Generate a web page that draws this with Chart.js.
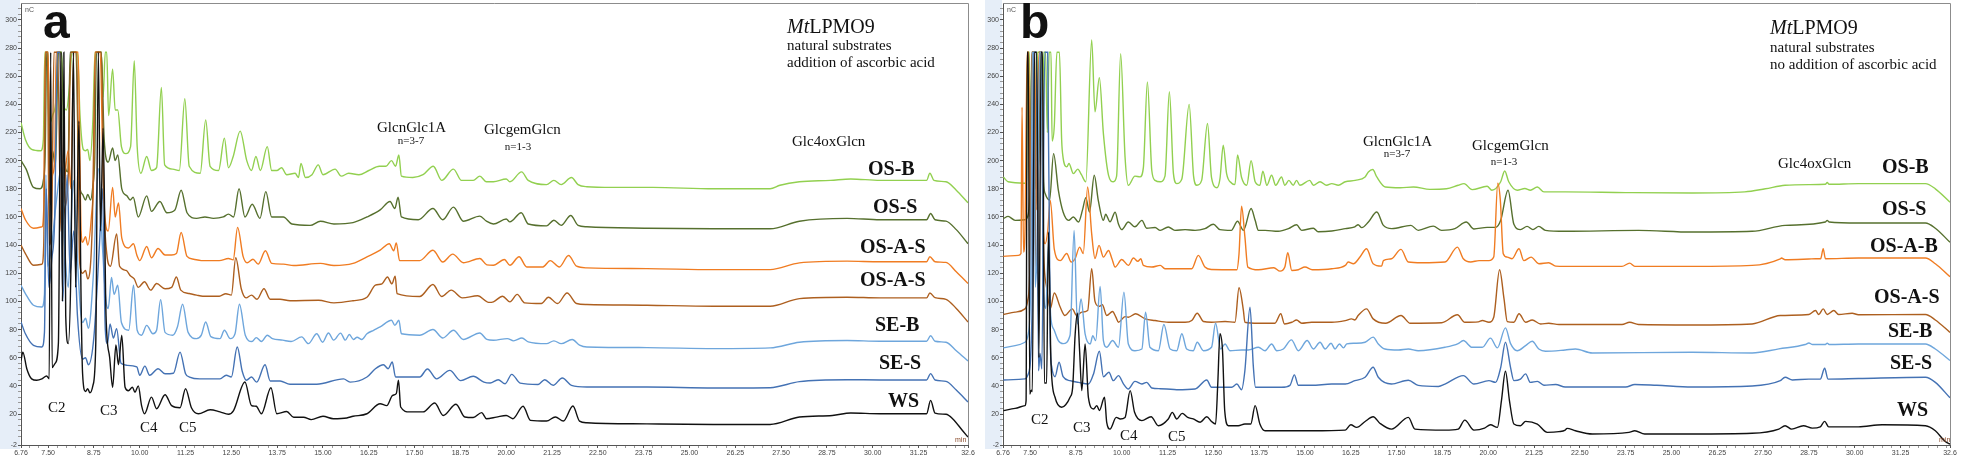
<!DOCTYPE html>
<html><head><meta charset="utf-8">
<script src="https://cdn.jsdelivr.net/npm/chart.js@4.4.1/dist/chart.umd.min.js"></script>
<style>
html,body{margin:0;padding:0;background:#fff;overflow:hidden}
#wrap{position:relative;width:1962px;height:460px}
canvas{position:absolute;top:0}
#ca{left:0;width:976px;height:460px}
#cb{left:982px;width:980px;height:460px}
</style></head><body>
<div id="wrap"><canvas id="ca" width="976" height="460"></canvas><canvas id="cb" width="980" height="460"></canvas></div>
<script>
// ---------- axis ticks ----------
const xTickValues = [6.76,7.5,8.75,10,11.25,12.5,13.75,15,16.25,17.5,18.75,20,21.25,22.5,23.75,25,26.25,27.5,28.75,30,31.25,32.6];
const xTickLabels = ['6.76','7.50','8.75','10.00','11.25','12.50','13.75','15.00','16.25','17.50','18.75','20.00','21.25','22.50','23.75','25.00','26.25','27.50','28.75','30.00','31.25','32.6'];
const yTickValues = [-2,20,40,60,80,100,120,140,160,180,200,220,240,260,280,300];
const yTickLabels = ['-2','20','40','60','80','100','120','140','160','180','200','220','240','260','280','300'];
const seriesNames = ['WS','SE-S','SE-B','OS-A-S','OS-A-S','OS-S','OS-B'];
const seriesNamesB = ['WS','SE-S','SE-B','OS-A-S','OS-A-B','OS-S','OS-B'];

// ---------- panel a : [retention time (min), signal (nC)] ----------
const a_OSB = [[6.76,227],[6.88,215],[7.05,208],[7.3,207],[7.37,215],[7.41,277],[7.47,277],[7.52,225],[7.62,232],[7.72,245],[7.77,277],[7.86,277],[7.92,240],[8.0,236],[8.08,252],[8.15,277],[8.3,277],[8.37,232],[8.46,208],[8.52,207],[8.58,208],[8.64,200],[8.72,228],[8.78,277],[8.95,277],[9.0,245],[9.06,277],[9.1,277],[9.15,232],[9.26,265],[9.33,236],[9.4,236],[9.5,210],[9.62,205],[9.75,210],[9.85,271],[9.93,210],[10.03,191],[10.19,203],[10.32,193],[10.46,195],[10.59,252],[10.68,197],[10.9,194],[11.08,193],[11.23,244],[11.35,196],[11.65,191],[11.8,229],[11.92,196],[12.15,193],[12.31,216],[12.42,195],[12.55,203],[12.74,221],[12.92,200],[13.05,193],[13.17,203],[13.29,193],[13.48,210],[13.6,193],[13.74,193],[13.87,195],[14.01,190],[14.24,191],[14.33,188],[14.4,198],[14.52,188],[14.7,190],[14.87,197],[15.0,190],[15.33,194],[15.5,189],[15.7,191],[15.98,190],[16.25,193],[16.54,196],[16.72,196],[16.87,200],[16.98,196],[17.07,204],[17.14,189],[17.45,188],[17.73,190],[18.01,196],[18.24,186],[18.56,194],[18.78,186],[19.1,186],[19.28,189],[19.46,185],[19.65,185],[20.0,187],[20.1,185],[20.42,192],[20.6,186],[21.1,183],[21.3,186],[21.5,183],[21.78,188],[21.96,183],[22.2,181.5],[22.9,181],[24.0,181],[25.66,180],[27.2,180],[27.47,182.5],[28.0,185],[28.85,186],[29.4,187],[30.2,186],[31.47,186],[31.56,191],[31.67,186],[32.0,185],[32.28,179],[32.6,170]];
const a_OSS = [[6.76,200],[6.9,194],[7.1,181],[7.28,180],[7.37,186],[7.42,205],[7.46,277],[7.5,277],[7.55,192],[7.62,207],[7.7,196],[7.78,277],[7.87,277],[7.94,200],[8.04,192],[8.1,277],[8.26,277],[8.34,186],[8.44,176],[8.52,172],[8.58,176],[8.66,172],[8.72,182],[8.77,200],[8.82,277],[8.95,277],[9.03,215],[9.14,199],[9.26,209],[9.33,200],[9.4,204],[9.51,180],[9.65,175],[9.74,172],[9.82,174],[9.96,160],[10.19,175],[10.32,164],[10.55,171],[10.74,163],[10.96,165],[11.13,179],[11.29,163],[11.55,159],[11.78,160],[12.01,159],[12.28,160],[12.42,162],[12.56,160],[12.71,180],[12.87,160],[13.07,169],[13.28,159],[13.44,178],[13.6,160],[13.77,160],[13.92,160],[14.15,155],[14.65,154],[14.93,157],[15.3,155],[15.82,156],[16.2,160],[16.56,165],[16.83,171],[16.96,166],[17.05,174],[17.14,160],[17.6,158],[18.0,166],[18.27,158],[18.56,167],[18.83,157],[19.28,160.6],[19.46,157],[19.65,155],[20.0,158.5],[20.1,156.5],[20.41,163],[20.6,155],[21.1,153.7],[21.3,157.7],[21.5,154],[21.76,161],[21.96,154],[22.2,153],[23.84,152],[25.66,151.6],[27.2,151.6],[28.0,157],[29.3,159],[30.2,158],[31.47,158],[31.58,162.5],[31.7,158],[32.0,157],[32.28,151],[32.6,141]];
const a_OAS = [[6.76,166],[6.88,158],[7.1,152],[7.33,153],[7.38,165],[7.42,277],[7.5,277],[7.55,170],[7.62,190],[7.68,200],[7.72,277],[7.82,277],[7.9,165],[7.98,195],[8.05,207],[8.12,180],[8.2,277],[8.32,277],[8.4,150],[8.44,142],[8.52,146],[8.58,140],[8.68,160],[8.74,190],[8.78,277],[8.92,277],[9.0,190],[9.05,160],[9.14,150],[9.26,181],[9.33,160],[9.42,170],[9.51,145],[9.69,138],[9.83,141],[9.92,133],[10.0,129],[10.19,139],[10.32,131],[10.5,137.6],[10.69,133],[10.87,133],[11.0,134],[11.13,149],[11.29,132],[11.47,130],[11.68,129],[12.17,129],[12.42,130.5],[12.55,129.5],[12.67,152.6],[12.82,132],[12.93,127.5],[13.09,130],[13.23,126.5],[13.43,136],[13.6,127],[13.92,126.5],[14.2,125.5],[14.93,127],[15.3,125.5],[15.82,127],[16.2,131.7],[16.56,136.4],[16.81,141],[16.93,136],[17.0,141.6],[17.09,129],[17.64,129],[18.0,136.4],[18.27,128],[18.54,133.6],[18.83,127.5],[19.28,130.5],[19.47,126],[19.65,125.7],[19.95,129.8],[20.1,125.7],[20.35,131.7],[20.56,124.5],[21.0,124.5],[21.2,129],[21.45,124.5],[21.7,132.6],[21.92,125],[22.2,123.8],[23.84,123.3],[25.66,122.6],[27.2,122.6],[28.0,127.4],[29.3,128.6],[30.2,128.2],[31.47,128.2],[31.56,131.7],[31.7,128.2],[32.0,127.7],[32.28,121],[32.6,112.7]];
const a_OAS2 = [[6.76,140],[6.88,134],[7.1,125.7],[7.33,126.4],[7.38,140],[7.43,277],[7.48,277],[7.53,140],[7.6,160],[7.66,277],[7.76,277],[7.85,150],[7.95,165],[8.05,190],[8.12,277],[8.28,277],[8.36,128],[8.44,120],[8.52,122],[8.58,116],[8.7,150],[8.8,277],[8.95,277],[9.03,165],[9.1,134],[9.2,125],[9.37,148],[9.45,125],[9.63,122],[9.75,118],[9.85,116],[9.96,110],[10.13,114],[10.3,108],[10.46,112.7],[10.69,109],[10.87,110],[11.0,117.4],[11.12,108],[11.35,105.6],[11.55,104.5],[11.72,103.7],[12.17,103.7],[12.35,105.5],[12.5,104.5],[12.62,131],[12.77,109],[12.9,102.5],[13.05,104.5],[13.2,101.5],[13.39,109],[13.56,101.5],[13.83,101.5],[14.1,100.5],[14.88,100.8],[15.3,99],[15.82,100.5],[16.2,103],[16.43,111.5],[16.61,112.5],[16.76,117.4],[16.88,112.5],[16.97,118],[17.02,105.6],[17.64,103.5],[18.0,112],[18.24,103.5],[18.5,108],[18.8,102.5],[19.22,104],[19.52,99.3],[19.65,99.7],[19.9,103.7],[20.1,99.7],[20.3,105],[20.5,99],[20.96,98.5],[21.15,103],[21.4,98.5],[21.66,106],[21.92,98.5],[22.2,97.8],[23.84,97.3],[25.66,96.6],[27.2,96.6],[28.0,102],[29.3,103],[30.2,102.5],[31.47,102.5],[31.56,106],[31.7,102.7],[32.0,101.5],[32.28,95],[32.6,85.4]];
const a_SEB = [[6.76,111.5],[6.88,105.6],[7.1,97.3],[7.33,96],[7.4,105],[7.44,190],[7.49,125],[7.6,140],[7.72,170],[7.87,196],[7.95,140],[8.05,110],[8.12,150],[8.19,186],[8.28,140],[8.38,95],[8.44,85],[8.52,88],[8.6,81],[8.73,117],[8.87,194.5],[8.98,140],[9.08,100],[9.14,95],[9.23,117],[9.3,105],[9.4,111.5],[9.5,85],[9.7,79.5],[9.83,111.5],[9.93,79.5],[10.05,76],[10.19,83],[10.36,77],[10.46,79.5],[10.57,101.3],[10.69,78],[10.9,76],[11.03,82],[11.17,98],[11.32,78],[11.55,73.6],[11.68,76],[11.8,85.4],[11.94,75],[12.19,73.6],[12.31,79.5],[12.47,73.6],[12.6,77],[12.72,98],[12.88,76],[13.06,71.5],[13.18,74.3],[13.32,71.5],[13.48,76],[13.62,73.6],[13.9,72.5],[14.13,71.5],[14.42,74.8],[14.6,70],[14.83,77],[14.99,71],[15.15,77.6],[15.29,72.5],[15.48,77.5],[15.61,72.5],[15.72,76.5],[15.83,73],[15.93,74.5],[16.06,73],[16.2,77],[16.38,79.5],[16.56,81.9],[16.87,86.6],[16.96,83],[17.07,86.6],[17.14,77],[17.64,76],[18.0,80],[18.27,74],[18.56,79.5],[18.83,73],[19.28,77.6],[19.47,73],[19.65,72.4],[20.03,73.6],[20.2,72],[20.43,74],[20.6,71.3],[21.1,70],[21.3,72],[21.5,70],[21.8,73],[22.0,69],[22.2,67.6],[23.84,67.2],[25.66,66.5],[27.2,67],[28.0,71],[29.3,72.2],[30.2,71.7],[31.47,71.7],[31.58,75.6],[31.7,71.7],[32.0,71],[32.28,65],[32.6,57.7]];
const a_SES = [[6.76,85.4],[6.88,77],[7.1,68.8],[7.33,67.6],[7.4,78],[7.45,180],[7.52,110],[7.6,130],[7.68,160],[7.75,277],[7.82,277],[7.9,100],[8.02,190],[8.1,120],[8.2,150],[8.3,90],[8.44,59],[8.52,60],[8.6,55],[8.75,75],[8.9,140],[8.98,180],[9.06,80],[9.12,70],[9.19,84],[9.28,74],[9.37,80.7],[9.49,56],[9.65,54.6],[9.92,53.5],[10.0,47.5],[10.14,54],[10.27,47.5],[10.5,52.2],[10.69,48.6],[10.92,49],[11.1,64],[11.25,48.6],[11.36,46.3],[11.64,45],[12.19,45],[12.36,47.5],[12.5,46.3],[12.66,67.6],[12.8,50],[12.91,44],[13.05,46.3],[13.19,42.7],[13.42,55],[13.56,43.5],[13.83,43.5],[14.1,41.2],[14.83,41.2],[15.56,45],[15.74,42.7],[16.2,46.3],[16.43,52.2],[16.65,55],[16.78,52.2],[16.89,57],[16.98,46.3],[17.64,46.3],[17.85,52],[18.1,45],[18.46,51],[18.76,43.7],[19.1,46.8],[19.39,42.7],[19.56,42],[19.78,44.4],[19.97,41.5],[20.15,48.2],[20.38,42],[20.87,41],[21.05,44.4],[21.28,40.4],[21.53,45.6],[21.78,40.4],[22.2,39.2],[23.84,39.2],[25.66,38.5],[27.2,38.7],[28.0,43],[29.3,44.4],[30.2,44.2],[31.47,44.2],[31.58,48.7],[31.7,44.2],[32.0,43.2],[32.28,37],[32.6,28.5]];
const a_WS = [[6.76,58],[6.81,64],[6.92,52],[7.05,45],[7.19,44],[7.33,45],[7.46,47],[7.53,45],[7.57,277],[7.61,53],[7.69,56],[7.78,70],[7.85,277],[7.89,100],[7.93,277],[7.98,90],[8.05,70],[8.12,120],[8.19,277],[8.25,110],[8.34,228],[8.4,100],[8.44,49],[8.52,36],[8.58,38],[8.64,35],[8.72,40],[8.8,70],[8.87,277],[8.93,150],[9.0,223],[9.08,90],[9.18,60],[9.26,39],[9.35,69],[9.42,55],[9.51,76],[9.6,39],[9.69,36.5],[9.8,39],[9.87,35.5],[9.96,40],[10.05,26],[10.13,20.2],[10.32,32],[10.46,23.8],[10.69,33.7],[10.87,26],[11.1,24.5],[11.25,38],[11.41,24.5],[11.6,20.2],[11.92,23],[12.19,21.5],[12.42,19.8],[12.56,22.5],[12.87,42.8],[13.05,26],[13.18,25.5],[13.32,20.2],[13.58,38.7],[13.74,20.2],[14.01,21.8],[14.2,17.7],[14.47,17.7],[14.68,16],[15.0,18.4],[15.28,16.7],[15.65,17.2],[15.82,18.4],[16.2,20.2],[16.56,27.3],[16.74,26],[16.9,33.3],[17.0,34.5],[17.06,44],[17.12,25],[17.36,21.5],[17.73,21.5],[18.05,27.8],[18.28,19],[18.63,27],[18.87,17.9],[19.1,17.5],[19.33,21],[19.46,16.7],[19.73,17.8],[20.0,19],[20.18,16.7],[20.46,25.5],[20.66,15.5],[21.1,15],[21.34,17.9],[21.56,15],[21.82,25.7],[22.0,15],[22.2,13.8],[23.84,13],[25.66,12.6],[27.2,12.6],[28.0,17.9],[28.9,19],[29.4,20.7],[30.2,20.2],[31.47,20.2],[31.58,29.7],[31.7,20.7],[32.0,19.8],[32.18,16.7],[32.46,7.9],[32.6,3.6]];

// ---------- panel b ----------
const b_OSB = [[6.77,188.4],[6.9,185],[7.36,184],[7.4,186],[7.43,277],[7.48,277],[7.52,190],[7.56,277],[7.62,277],[7.66,200],[7.7,277],[7.78,277],[7.83,210],[7.87,277],[7.92,277],[7.97,220],[8.02,277],[8.07,277],[8.1,214],[8.16,225],[8.23,277],[8.3,277],[8.36,215],[8.4,202],[8.5,195.6],[8.56,198],[8.68,190.8],[8.8,194],[8.9,190],[9.02,185],[9.18,285.7],[9.27,234.7],[9.39,259],[9.5,219],[9.64,189.6],[9.77,185],[9.86,189],[9.97,276],[10.09,202.7],[10.18,182.5],[10.36,189],[10.5,188.5],[10.59,195],[10.7,256],[10.82,193],[10.91,186],[11.05,185],[11.18,189],[11.3,249],[11.41,191],[11.5,183.7],[11.64,187],[11.84,240],[11.96,189],[12.05,182.5],[12.18,186],[12.34,226.4],[12.45,188],[12.6,180.8],[12.68,187],[12.77,211],[12.86,191],[13.0,184],[13.09,183],[13.16,204],[13.27,188],[13.41,182.5],[13.53,200],[13.64,185],[13.77,182.5],[13.85,192.5],[13.96,182.5],[14.09,189.6],[14.2,182.5],[14.36,188.4],[14.45,182.5],[14.56,186],[14.68,182.5],[14.77,186],[14.86,182.5],[15.13,186],[15.23,182.5],[15.41,185],[15.59,182.5],[15.73,183.7],[15.91,182.5],[16.1,185],[16.37,186],[16.64,188.4],[16.73,192],[16.85,193.7],[16.96,188.4],[17.19,181.3],[17.6,180.8],[17.96,181.3],[18.41,179.6],[18.86,180],[19.18,182.5],[19.34,183.7],[19.56,179.4],[19.97,181.8],[20.1,179],[20.34,185],[20.45,192.7],[20.56,185],[20.79,179],[21.0,180.2],[21.15,179],[21.34,181.3],[21.52,177.8],[22.1,177.8],[23.75,177.3],[25.56,177],[27.0,177.8],[27.56,180],[28.1,182.5],[28.75,183],[29.2,183.2],[29.25,184.5],[29.3,183.2],[30.1,183.7],[31.0,183.7],[31.93,183.7],[32.2,180],[32.6,170.5]];
const b_OSS = [[6.77,158.8],[6.9,160.4],[7.09,157.6],[7.36,158],[7.45,162],[7.5,185],[7.55,277],[7.6,277],[7.65,180],[7.73,200],[7.78,277],[7.82,277],[7.87,185],[7.91,176.6],[8.03,172],[8.14,205],[8.27,179],[8.4,163.5],[8.55,157.6],[8.68,160],[8.82,156.4],[8.93,165],[9.02,173.7],[9.12,163.5],[9.25,189.6],[9.36,171.8],[9.5,157.6],[9.56,161.9],[9.68,156.5],[9.82,163.3],[9.91,155],[10.0,151],[10.18,156.4],[10.36,153],[10.55,157.6],[10.68,152],[10.91,152.5],[11.05,150.5],[11.27,152.9],[11.45,150.5],[11.73,151],[12.0,150.5],[12.27,151.7],[12.5,154.8],[12.68,151],[12.99,150.5],[13.16,157],[13.32,150.5],[13.53,166],[13.64,157.6],[13.73,150.5],[13.91,150.5],[14.27,149.8],[14.55,151.7],[14.77,154.5],[14.91,150.5],[15.23,152],[15.36,149.5],[15.73,150],[16.1,151.7],[16.36,153],[16.45,154.5],[16.55,152.4],[16.73,156.4],[16.96,163.5],[17.14,154],[17.37,151.7],[17.89,154],[18.09,150.5],[18.5,153.5],[18.73,150.5],[19.09,151.7],[19.4,156.4],[19.61,151.5],[19.97,152.6],[20.2,152.6],[20.34,157.6],[20.54,179],[20.7,154.8],[20.88,151],[21.06,153.3],[21.22,151],[21.38,153.3],[21.56,150.5],[22.1,149.8],[24.1,150.5],[25.56,149.3],[27.2,149.8],[28.1,154],[29.2,156.4],[29.25,157.6],[29.3,156.4],[30.1,155.7],[31.93,155.7],[32.2,152],[32.6,142]];
const b_OAB = [[6.77,132],[7.18,132.7],[7.25,134],[7.28,238],[7.32,135],[7.36,150],[7.42,277],[7.46,277],[7.5,160],[7.56,277],[7.62,277],[7.68,165],[7.74,277],[7.8,277],[7.86,150],[7.91,141],[7.98,150],[8.05,171.8],[8.16,137],[8.32,129],[8.5,134],[8.62,128],[8.73,130.5],[8.85,138.6],[8.95,134],[9.07,181.3],[9.18,148],[9.27,130.5],[9.38,139.8],[9.5,131.5],[9.64,136.2],[9.73,130.5],[9.82,124.4],[10.0,129.8],[10.18,125.6],[10.32,130.8],[10.44,128.5],[10.52,130.3],[10.59,125.6],[10.82,124.4],[11.05,125.6],[11.18,123.2],[11.91,123.2],[12.09,132.7],[12.27,124.4],[12.45,122.7],[13.14,122.5],[13.2,133.9],[13.27,167.6],[13.36,146],[13.44,124.4],[13.73,122.5],[14.15,123.9],[14.32,121.5],[14.45,124.4],[14.53,134.6],[14.64,122],[14.82,122.5],[15.0,124.4],[15.2,122.5],[15.73,123.2],[16.1,125.6],[16.18,128],[16.32,126.8],[16.5,131.5],[16.68,137.4],[16.86,126.8],[17.09,125.1],[17.14,129],[17.36,130.3],[17.62,137],[17.82,128],[18.18,127.5],[18.82,128],[19.16,138.6],[19.32,130.3],[19.52,128],[19.75,129],[20.02,129],[20.15,131.5],[20.26,184],[20.33,172],[20.41,133.9],[20.52,131.5],[20.65,130.3],[20.84,137.4],[20.97,129],[21.17,131.5],[21.38,126.8],[21.65,127.5],[21.84,125.1],[22.1,124.9],[23.65,124.9],[23.86,127.2],[24.0,124.9],[25.56,124.9],[27.2,125.6],[27.97,130.3],[28.0,130.8],[28.1,129.6],[28.75,130.1],[28.93,130.3],[29.07,130.3],[29.14,137.4],[29.2,130.3],[30.1,130.8],[31.93,130.8],[32.2,126.8],[32.6,117.5]];
const b_OAS = [[6.77,90.7],[7.09,92.4],[7.36,94.7],[7.43,100],[7.5,130],[7.55,277],[7.6,277],[7.65,140],[7.7,120],[7.75,277],[7.8,277],[7.86,143],[7.95,110],[8.05,94.7],[8.16,106],[8.32,96],[8.45,90],[8.65,94.7],[8.77,90],[8.91,92.4],[9.07,93.5],[9.18,123.2],[9.27,100],[9.38,96.5],[9.47,97.6],[9.59,90],[9.75,92.8],[9.84,88.8],[9.91,85.2],[10.09,89.2],[10.18,88.8],[10.38,91.2],[10.64,87.6],[10.91,86.4],[11.27,85.2],[11.73,85.2],[11.91,86.4],[12.06,91.6],[12.23,85.7],[12.45,85.2],[12.82,85.7],[13.09,85.2],[13.2,109.7],[13.32,93.5],[13.36,85.2],[13.73,84.5],[14.18,84.5],[14.34,91.2],[14.44,84],[14.64,85.2],[14.77,86.8],[14.91,84.5],[15.18,85.2],[15.73,85.2],[16.1,86.4],[16.27,87.6],[16.36,86.8],[16.45,90],[16.68,94.7],[16.86,87.6],[17.2,84.5],[17.62,90],[17.87,84.5],[18.73,84.8],[19.16,90.5],[19.36,85.2],[19.73,85.5],[19.84,86.4],[20.02,85.2],[20.15,88.8],[20.31,122.5],[20.43,102],[20.52,85.7],[20.7,85.2],[20.84,91.2],[21.02,85.2],[21.2,86.8],[21.43,84],[21.65,84.5],[21.93,83.6],[23.65,83.6],[23.86,85.2],[24.1,83.6],[25.56,83.3],[27.2,84],[27.97,90],[28.75,90.7],[28.93,93.5],[29.02,90.7],[29.14,94.7],[29.25,90.7],[29.43,93.5],[29.56,90.7],[29.93,91.6],[30.1,90.5],[31.93,90.7],[32.2,86.8],[32.6,78]];
const b_SEB = [[6.77,67],[7.09,68.6],[7.36,71],[7.45,77],[7.52,120],[7.56,277],[7.6,277],[7.64,110],[7.7,150],[7.76,277],[7.8,277],[7.86,110],[7.93,95],[8.0,140],[8.06,90],[8.15,80],[8.27,72.2],[8.4,70],[8.59,76],[8.7,150.5],[8.79,84],[8.89,101.8],[9.0,77],[9.14,69.8],[9.21,75.6],[9.29,72.2],[9.41,110.6],[9.5,72.2],[9.59,67.4],[9.75,72.2],[9.91,67.4],[10.06,106.6],[10.18,69.8],[10.36,65],[10.55,66.2],[10.65,92.4],[10.77,67.4],[11.0,65],[11.15,83.6],[11.32,66.2],[11.5,65],[11.64,77],[11.77,66.2],[11.95,65],[12.06,71],[12.23,65],[12.45,67.4],[12.56,84.5],[12.7,66.2],[12.82,69.8],[12.95,65],[13.27,65.5],[13.45,65.5],[13.73,67.4],[13.91,65],[14.09,69.8],[14.23,65],[14.41,66.2],[14.63,72.7],[14.82,65],[15.06,72.2],[15.23,66.2],[15.41,71],[15.55,66.2],[15.71,70.3],[15.82,66.2],[15.94,69.8],[16.05,67],[16.14,69.8],[16.36,70.3],[16.64,71],[16.86,74.6],[17.0,69.8],[17.18,66.2],[17.55,65.5],[17.82,66.2],[18.09,65],[18.82,67.4],[19.18,70],[19.32,72.2],[19.56,67.4],[19.84,67.4],[20.06,73.9],[20.25,67],[20.47,81.2],[20.61,70],[20.79,65],[21.02,68.6],[21.2,71.7],[21.38,66.2],[21.56,64.6],[22.1,65.5],[22.38,66.2],[22.84,63.4],[25.56,63.9],[27.2,63.4],[27.93,66.3],[28.65,69.4],[28.75,70.5],[28.85,69.4],[29.2,69.4],[29.25,70.3],[29.3,69.4],[30.1,69.8],[31.93,69.8],[32.2,66.2],[32.6,58]];
const b_SES = [[6.77,44.2],[7.36,45],[7.45,48.5],[7.55,88.8],[7.6,277],[7.67,277],[7.73,50.8],[7.77,63],[7.82,52],[7.9,277],[7.98,277],[8.05,70],[8.09,53.5],[8.18,46.5],[8.29,56.8],[8.4,46.5],[8.59,43.7],[8.82,42.5],[9.09,41.3],[9.23,48.5],[9.39,64.6],[9.5,46.5],[9.65,49.7],[9.77,43.7],[9.91,47.3],[10.05,41.3],[10.18,37.8],[10.36,43.2],[10.55,41.3],[10.68,42.5],[10.82,38.5],[11.05,38],[11.23,37.8],[11.5,37.3],[12.0,37.8],[12.32,44.2],[12.45,39],[13.0,39],[13.14,41.3],[13.27,37.3],[13.36,50.8],[13.5,95.9],[13.59,54],[13.65,39],[14.0,39],[14.36,39],[14.59,40.4],[14.71,47.8],[14.82,40.4],[15.18,40.4],[15.73,41.3],[16.1,41.3],[16.36,43.7],[16.64,46.1],[16.86,53.2],[17.0,46.1],[17.36,41.3],[17.82,44],[18.09,40.4],[18.64,39.6],[18.82,41.3],[19.32,47.3],[19.61,41.3],[20.02,43.7],[20.2,42.5],[20.34,53],[20.47,71],[20.61,53],[20.7,43.7],[20.88,44.8],[21.02,48.5],[21.15,42.5],[21.34,43.2],[21.52,40.4],[21.84,41],[22.1,39.2],[23.75,39.2],[24.0,41],[24.6,40.4],[25.56,39.2],[27.2,39.9],[27.97,43.7],[28.1,46.1],[28.3,44.2],[28.75,44.8],[29.06,44.8],[29.18,52.5],[29.27,44.8],[30.1,45.2],[31.93,46.1],[32.2,42.5],[32.6,31.5]];
const b_WS = [[6.77,22.4],[7.09,24],[7.36,26],[7.39,29.5],[7.42,277],[7.45,277],[7.49,34.2],[7.53,37],[7.56,36],[7.62,277],[7.68,277],[7.74,60],[7.8,277],[7.84,277],[7.89,42],[7.95,42],[8.0,149.3],[8.07,56],[8.18,31.9],[8.36,24.8],[8.47,26.6],[8.59,31.9],[8.66,38.8],[8.73,77],[8.79,91.6],[8.85,65],[8.91,36.6],[9.0,69.8],[9.09,31.9],[9.23,23.6],[9.32,26],[9.39,22.5],[9.53,31.9],[9.59,14],[9.68,9.3],[9.85,17.6],[9.96,16.5],[10.09,17.6],[10.23,36.6],[10.35,21.2],[10.55,15.3],[10.8,18.1],[11.0,11.7],[11.27,16.5],[11.38,21.2],[11.5,16.5],[11.65,20.5],[11.8,17.6],[11.95,16.5],[12.14,14.2],[12.32,18.1],[12.45,14.7],[12.56,12.9],[12.62,41.3],[12.68,77],[12.75,65],[12.81,22.3],[12.91,11.7],[13.18,11.7],[13.36,12.9],[13.52,12.9],[13.64,26],[13.77,12.9],[13.91,8.1],[14.27,8.1],[15.18,8.1],[16.1,8.6],[16.25,12.4],[16.41,10.5],[16.64,14.7],[16.86,18.1],[17.05,13.3],[17.36,9.3],[17.82,17.6],[18.0,9.3],[18.82,8.6],[19.18,9.3],[19.36,15.7],[19.61,8.6],[19.9,10],[20.06,12.4],[20.25,10.5],[20.36,29.4],[20.47,50.4],[20.58,29.4],[20.7,12.9],[20.88,11.7],[21.02,14.8],[21.34,12.9],[21.61,7],[21.93,7.5],[22.1,8.6],[22.15,9.8],[22.38,8.1],[22.84,5.8],[23.84,7],[24.0,8.1],[24.27,5.8],[25.56,5.8],[27.2,6.3],[27.93,9.3],[28.1,11.7],[28.28,9.3],[28.6,11.7],[28.84,10],[29.06,10.9],[29.18,14.8],[29.29,10.9],[30.1,10.9],[30.75,12.4],[31.93,11.7],[32.2,8.1],[32.47,0.5],[32.6,-1.4]];

// ---------- styling ----------
const traceColors = ['#111111','#4472b4','#6ea6dc','#ad5f1f','#f07c22','#56702e','#92d050'];
const SERIF = '"Liberation Serif","Times New Roman",serif';
const SANS = '"Liberation Sans",Arial,sans-serif';

const notesA = [
  {t:'a', x:43, y:38, f:'bold 48px '+SANS},
  {mt:true, x:787, y:33, size:20},
  {t:'natural substrates', x:787, y:50, f:'15px '+SERIF},
  {t:'addition of ascorbic acid', x:787, y:67, f:'15px '+SERIF},
  {t:'GlcnGlc1A', x:377, y:132, f:'15px '+SERIF},
  {t:'n=3-7', x:411, y:144, f:'11px '+SERIF, a:'center'},
  {t:'GlcgemGlcn', x:484, y:134, f:'15px '+SERIF},
  {t:'n=1-3', x:518, y:150, f:'11px '+SERIF, a:'center'},
  {t:'Glc4oxGlcn', x:792, y:146, f:'15px '+SERIF},
  {t:'C2', x:48, y:412, f:'15px '+SERIF},
  {t:'C3', x:100, y:415, f:'15px '+SERIF},
  {t:'C4', x:140, y:432, f:'15px '+SERIF},
  {t:'C5', x:179, y:432, f:'15px '+SERIF},
  {t:'OS-B', x:868, y:175, f:'bold 20px '+SERIF},
  {t:'OS-S', x:873, y:213, f:'bold 20px '+SERIF},
  {t:'OS-A-S', x:860, y:253, f:'bold 20px '+SERIF},
  {t:'OS-A-S', x:860, y:286, f:'bold 20px '+SERIF},
  {t:'SE-B', x:875, y:331, f:'bold 20px '+SERIF},
  {t:'SE-S', x:879, y:369, f:'bold 20px '+SERIF},
  {t:'WS', x:888, y:407, f:'bold 20px '+SERIF},
  {t:'nC', x:25, y:12, f:'7px '+SANS, c:'#555'},
  {t:'min', x:955, y:442, f:'7px '+SANS, c:'#8a4b2a'}
];
const notesB = [
  {t:'b', x:38, y:38, f:'bold 48px '+SANS},
  {mt:true, x:788, y:34, size:20},
  {t:'natural substrates', x:788, y:52, f:'15px '+SERIF},
  {t:'no addition of ascorbic acid', x:788, y:69, f:'15px '+SERIF},
  {t:'GlcnGlc1A', x:381, y:146, f:'15px '+SERIF},
  {t:'n=3-7', x:415, y:157, f:'11px '+SERIF, a:'center'},
  {t:'GlcgemGlcn', x:490, y:150, f:'15px '+SERIF},
  {t:'n=1-3', x:522, y:165, f:'11px '+SERIF, a:'center'},
  {t:'Glc4oxGlcn', x:796, y:168, f:'15px '+SERIF},
  {t:'C2', x:49, y:424, f:'15px '+SERIF},
  {t:'C3', x:91, y:432, f:'15px '+SERIF},
  {t:'C4', x:138, y:440, f:'15px '+SERIF},
  {t:'C5', x:186, y:441, f:'15px '+SERIF},
  {t:'OS-B', x:900, y:173, f:'bold 20px '+SERIF},
  {t:'OS-S', x:900, y:215, f:'bold 20px '+SERIF},
  {t:'OS-A-B', x:888, y:252, f:'bold 20px '+SERIF},
  {t:'OS-A-S', x:892, y:303, f:'bold 20px '+SERIF},
  {t:'SE-B', x:906, y:337, f:'bold 20px '+SERIF},
  {t:'SE-S', x:908, y:369, f:'bold 20px '+SERIF},
  {t:'WS', x:915, y:416, f:'bold 20px '+SERIF},
  {t:'nC', x:25, y:12, f:'7px '+SANS, c:'#555'},
  {t:'min', x:957, y:442, f:'7px '+SANS, c:'#8a4b2a'}
];

const deco = {
  id:'deco',
  beforeDraw(chart, args, o){
    const c = chart.ctx, a = chart.chartArea;
    c.save();
    c.fillStyle = '#e6eef8';
    c.fillRect(o.bandX, 0, a.left - o.bandX - 1, 449);
    c.restore();
  },
  afterDraw(chart, args, o){
    const c = chart.ctx, a = chart.chartArea;
    c.save();
    c.strokeStyle = '#8c8c8c'; c.lineWidth = 1;
    c.beginPath();
    c.moveTo(a.left, a.top + 0.5); c.lineTo(a.right + 0.5, a.top + 0.5); c.lineTo(a.right + 0.5, a.bottom);
    c.stroke();
    c.textBaseline = 'alphabetic';
    for (const n of o.notes){
      if (n.mt){
        c.fillStyle = '#111';
        c.textAlign = 'left';
        c.font = 'italic ' + n.size + 'px ' + SERIF;
        c.fillText('Mt', n.x, n.y);
        const w = c.measureText('Mt').width;
        c.font = n.size + 'px ' + SERIF;
        c.fillText('LPMO9', n.x + w, n.y);
        continue;
      }
      c.font = n.f; c.fillStyle = n.c || '#111'; c.textAlign = n.a || 'left';
      c.fillText(n.t, n.x, n.y);
    }
    c.restore();
  }
};

const xMinor = [];
for (let v = 7.0; v < 32.6; v += 0.25) { const r = Math.round(v*100)/100; if (!xTickValues.includes(r)) xMinor.push(r); }
const yMinor = [];
for (let v = 4; v < 312; v += 4) { if (!yTickValues.includes(v)) yMinor.push(v); }

function makeChart(id, series, names, bandX, padRight, notes){
  const datasets = series.map((s, i) => ({
    label: names[i],
    data: s.map(p => ({x:p[0], y:p[1]})),
    borderColor: traceColors[i],
    borderWidth: 1.4,
    pointRadius: 0,
    fill: false,
    cubicInterpolationMode: 'monotone'
  }));
  return new Chart(document.getElementById(id), {
    type: 'line',
    data: { datasets },
    plugins: [deco],
    options: {
      responsive: false, animation: false, devicePixelRatio: 1, events: [],
      layout: { padding: { left: 0, top: 3, right: padRight, bottom: 0 } },
      plugins: { legend: {display:false}, tooltip: {enabled:false}, deco: { bandX, notes } },
      scales: {
        x: {
          type: 'linear', min: 6.76, max: 32.6,
          border: { display: true, color: '#555', width: 1 },
          grid: { drawOnChartArea: false, drawTicks: true, tickLength: 3,
                  tickColor: ctx => xTickValues.includes(ctx.tick && ctx.tick.value) ? '#555' : '#999' },
          afterBuildTicks: s => { s.ticks = xTickValues.concat(xMinor).sort((p,q)=>p-q).map(v => ({value:v})); },
          afterFit: s => { s.height = 15; s.paddingLeft = 0; s.paddingRight = 0; },
          ticks: { autoSkip: false, maxRotation: 0, minRotation: 0, padding: 1, color: '#444',
                   font: { size: 7, family: SANS },
                   callback: v => { const k = xTickValues.indexOf(v); return k >= 0 ? xTickLabels[k] : ''; } }
        },
        y: {
          type: 'linear', min: -2, max: 312,
          border: { display: true, color: '#555', width: 1 },
          grid: { drawOnChartArea: false, drawTicks: true, tickLength: 3,
                  tickColor: ctx => yTickValues.includes(ctx.tick && ctx.tick.value) ? '#555' : '#999' },
          afterBuildTicks: s => { s.ticks = yTickValues.concat(yMinor).sort((p,q)=>p-q).map(v => ({value:v})); },
          afterFit: s => { s.width = 21; s.paddingTop = 0; s.paddingBottom = 0; },
          ticks: { autoSkip: false, padding: 1, color: '#444', font: { size: 7, family: SANS },
                   callback: v => { const k = yTickValues.indexOf(v); return k >= 0 ? yTickLabels[k] : ''; } }
        }
      }
    }
  });
}

makeChart('ca', [a_WS, a_SES, a_SEB, a_OAS2, a_OAS, a_OSS, a_OSB], seriesNames, 0, 8, notesA);
makeChart('cb', [b_WS, b_SES, b_SEB, b_OAS, b_OAB, b_OSS, b_OSB], seriesNamesB, 3, 12, notesB);
</script>
</body></html>
